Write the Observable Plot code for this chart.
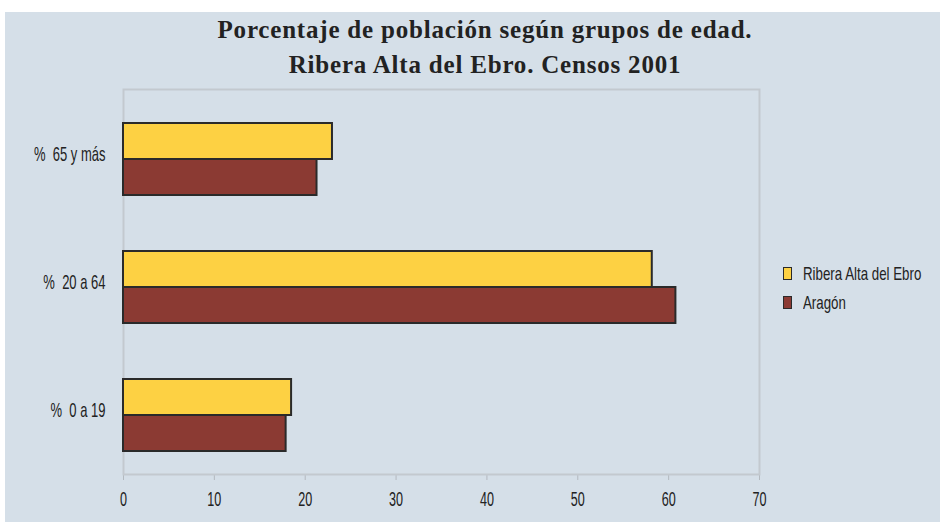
<!DOCTYPE html>
<html>
<head>
<meta charset="utf-8">
<script src="https://cdn.jsdelivr.net/npm/d3@7"></script>
<script src="https://cdn.jsdelivr.net/npm/@observablehq/plot@0.6"></script>
<style>
  html, body { margin: 0; padding: 0; background: #ffffff; width: 940px; height: 522px; overflow: hidden; }
  #panel { position: absolute; left: 5px; top: 12px; width: 935px; height: 510px; background: #d5dfe8; }
  #title { position: absolute; left: 35px; top: 12px; width: 900px; text-align: center;
           font-family: "Liberation Serif", "DejaVu Serif", serif; font-weight: bold; font-size: 25px;
           letter-spacing: 0.8px; line-height: 35px; color: #222; }
  #chart { position: absolute; left: 0; top: 80px; }
  #legend { position: absolute; left: 783px; top: 259px; font-family: "Liberation Sans", Arial, sans-serif;
            font-size: 19px; color: #222; white-space: nowrap; }
  .li { display: flex; align-items: center; height: 29px; }
  .sw { width: 7px; height: 11px; border: 1.5px solid #2a2a2a; margin-right: 11px; flex: none; }
  .lt { display: inline-block; transform: scaleX(0.7); transform-origin: left center; }
</style>
</head>
<body>
<div id="panel"></div>
<div id="title">Porcentaje de población según grupos de edad.<br>Ribera Alta del Ebro. Censos 2001</div>
<div id="chart"></div>
<div id="legend"></div>
<script>
const categories = ["%  65 y más", "%  20 a 64", "%  0 a 19"];
const seriesNames = ["Ribera Alta del Ebro", "Aragón"];
const ribera = [23.0, 58.2, 18.5];
const aragon = [21.3, 60.8, 17.9];
const xTicks = [0, 10, 20, 30, 40, 50, 60, 70];
const colors = ["#fdd143", "#8b3a33"];

const riberaData = categories.map((c, i) => ({cat: c, value: ribera[i]}));
const aragonData = categories.map((c, i) => ({cat: c, value: aragon[i]}));

const font = '"Liberation Sans", Arial, sans-serif';

const plot = Plot.plot({
  width: 940,
  height: 440,
  marginLeft: 123,
  marginRight: 181,
  marginTop: 9,
  marginBottom: 46,
  style: {background: "transparent", fontFamily: font, fontSize: "20px", color: "#222"},
  x: {domain: [0, 70], ticks: xTicks, label: null, tickSize: 6, tickPadding: 11},
  y: {domain: categories, padding: 0, label: null, tickSize: 0, tickPadding: 18},
  marks: [
    Plot.frame({stroke: "#c3c9cf", strokeWidth: 2}),
    Plot.barX(riberaData, {x: "value", y: "cat", fill: colors[0], stroke: "#2a2a2a", strokeWidth: 2, insetTop: 33, insetBottom: 59}),
    Plot.barX(aragonData, {x: "value", y: "cat", fill: colors[1], stroke: "#2a2a2a", strokeWidth: 2, insetTop: 69, insetBottom: 23})
  ]
});
const svg = d3.select(plot);
svg.selectAll("[aria-label='x-axis tick'] path").attr("stroke", "#b3b9bf");
// condensed look of the original lettering
svg.selectAll("[aria-label='y-axis tick label'] text")
  .attr("xml:space", "preserve").style("white-space", "pre")
  .attr("transform", function() { return (this.getAttribute("transform") || "") + " scale(0.65,1)"; });
svg.selectAll("[aria-label='x-axis tick label'] text")
  .style("font-size", "21px")
  .attr("transform", function() { return (this.getAttribute("transform") || "") + " scale(0.6,1)"; });
document.getElementById("chart").appendChild(plot);

const legend = document.getElementById("legend");
seriesNames.forEach((name, i) => {
  const row = document.createElement("div");
  row.className = "li";
  const sw = document.createElement("div");
  sw.className = "sw";
  sw.style.background = colors[i];
  const t = document.createElement("span");
  t.className = "lt";
  t.textContent = name;
  row.appendChild(sw);
  row.appendChild(t);
  legend.appendChild(row);
});
</script>
</body>
</html>
